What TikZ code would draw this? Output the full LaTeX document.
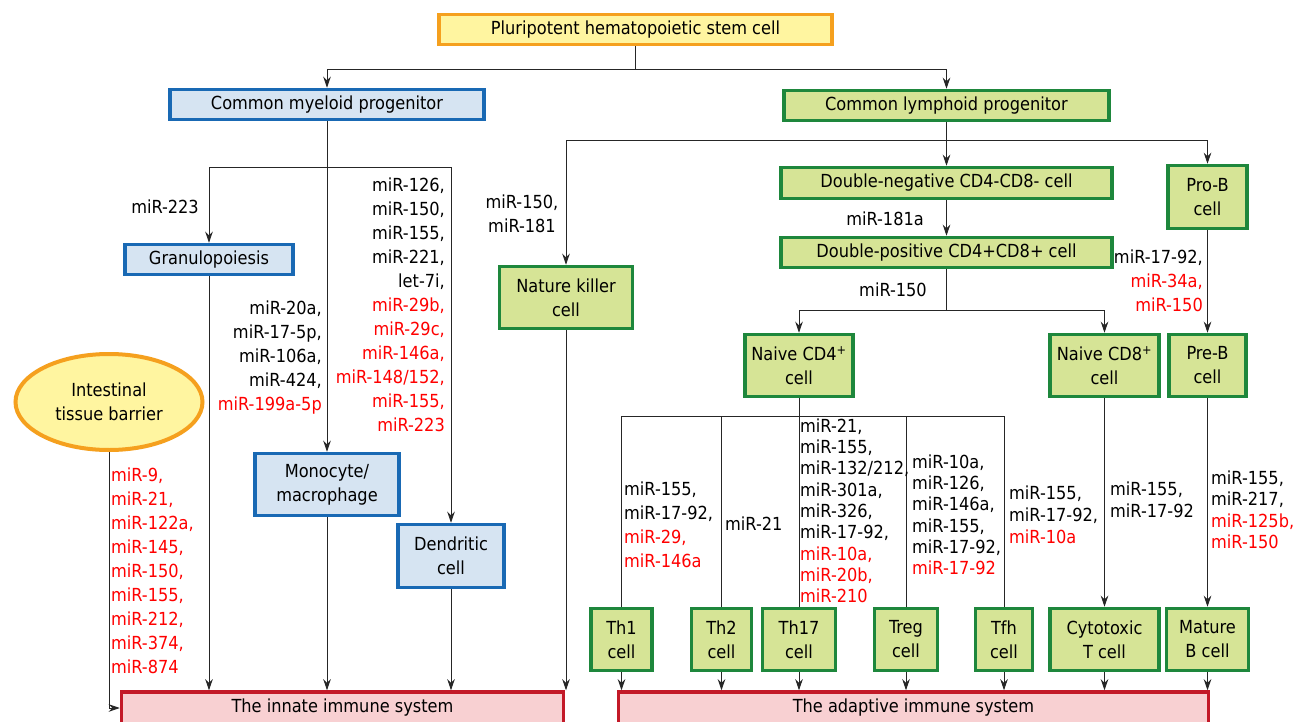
\documentclass[tikz,border=0pt]{standalone}
\usepackage{fontspec}
\setmainfont{DejaVu Sans Condensed}
\usetikzlibrary{arrows.meta,shapes.geometric}
\definecolor{orB}{HTML}{F5A01E}
\definecolor{orF}{HTML}{FFF5A0}
\definecolor{blB}{HTML}{1969B4}
\definecolor{blF}{HTML}{D6E4F2}
\definecolor{grB}{HTML}{1E873C}
\definecolor{grF}{HTML}{D6E496}
\definecolor{rdB}{HTML}{C31928}
\definecolor{rdF}{HTML}{F8D0D2}
\definecolor{mired}{HTML}{FF0000}
\newcommand{\rd}[1]{\textcolor{mired}{#1}}
\tikzset{
  basebox/.style={draw, line width=3.5pt, inner sep=0pt, align=center, font=\fontsize{18}{24}\selectfont},
  obox/.style={basebox, draw=orB, fill=orF},
  bbox/.style={basebox, draw=blB, fill=blF},
  gbox/.style={basebox, draw=grB, fill=grF},
  rbox/.style={basebox, draw=rdB, fill=rdF},
  lab/.style={inner sep=0pt, font=\fontsize{18}{24}\selectfont},
  labt/.style={inner sep=0pt, font=\fontsize{18}{21.3}\selectfont},
  conn/.style={draw=black!85, line width=0.9pt},
  arr/.style={conn, -{Stealth[length=11pt,width=7.5pt,inset=3.5pt]}},
}
\begin{document}
\begin{tikzpicture}[x=1pt,y=-1pt]
\useasboundingbox (0,0) rectangle (1295,722);
\clip (0,0) rectangle (1295,722);
\fill[white] (0,0) rectangle (1295,722);

% boxes
\node[obox, minimum width=393pt, minimum height=30pt] (psc) at (635.5,29.5) {Pluripotent hematopoietic stem cell};
\node[bbox, minimum width=314pt, minimum height=30pt] (cmp) at (327,104.5) {Common myeloid progenitor};
\node[gbox, minimum width=325pt, minimum height=30pt] (clp) at (946.5,105.5) {Common lymphoid progenitor};
\node[bbox, minimum width=168pt, minimum height=30pt] (gran) at (209,259.5) {Granulopoiesis};
\node[bbox, minimum width=144pt, minimum height=62pt] (mono) at (327,484.5) {Monocyte/\\macrophage};
\node[bbox, minimum width=106pt, minimum height=63pt] (dend) at (451,556) {Dendritic\\cell};
\node[gbox, minimum width=133pt, minimum height=62pt] (nk) at (566,297.5) {Nature killer\\cell};
\node[gbox, minimum width=331pt, minimum height=31pt] (dn) at (946.5,183) {Double-negative CD4-CD8- cell};
\node[gbox, minimum width=331pt, minimum height=30pt] (dp) at (946.5,252.5) {Double-positive CD4+CD8+ cell};
\node[gbox, minimum width=79pt, minimum height=63pt] (prob) at (1207.5,197) {Pro-B\\cell};
\node[gbox, minimum width=108pt, minimum height=62pt] (cd4) at (799,365.5) {Naive CD4\textsuperscript{+}\\cell};
\node[gbox, minimum width=109pt, minimum height=62pt] (cd8) at (1104.5,365.5) {Naive CD8\textsuperscript{+}\\cell};
\node[gbox, minimum width=77pt, minimum height=62pt] (preb) at (1207.5,365.5) {Pre-B\\cell};
\node[gbox, minimum width=61pt, minimum height=62pt] (th1) at (621.5,639.5) {Th1\\cell};
\node[gbox, minimum width=60pt, minimum height=62pt] (th2) at (721.5,639.5) {Th2\\cell};
\node[gbox, minimum width=73pt, minimum height=62pt] (th17) at (799,639.5) {Th17\\cell};
\node[gbox, minimum width=63pt, minimum height=62pt] (treg) at (906,639.5) {Treg\\cell};
\node[gbox, minimum width=57pt, minimum height=62pt] (tfh) at (1004,639.5) {Tfh\\cell};
\node[gbox, minimum width=109pt, minimum height=62pt] (cyto) at (1104.5,639.5) {Cytotoxic\\T cell};
\node[gbox, minimum width=82pt, minimum height=62pt] (matb) at (1207.5,639.5) {Mature\\B cell};
\node[rbox, minimum width=442pt, minimum height=32pt] (innate) at (342.5,708) {The innate immune system};
\node[rbox, minimum width=590pt, minimum height=32pt] (adapt) at (913.5,708) {The adaptive immune system};
\node[ellipse, basebox, draw=orB, fill=orF, line width=4pt, minimum width=187pt, minimum height=96pt] (itb) at (109,402) {Intestinal\\tissue barrier};

% junctions
\coordinate (j1) at (635.5,69);
\coordinate (j2) at (327,167);
\coordinate (j3) at (946.5,140);
\coordinate (j4) at (946.5,310);
\coordinate (j5) at (799,416);

% connectors
\draw[conn] (psc.south) -- (j1);
\draw[arr] (j1) -| (cmp.north);
\draw[arr] (j1) -| (clp.north);
\draw[arr] (cmp.south) -- (mono.north);
\draw[arr] (j2) -| (gran.north);
\draw[arr] (j2) -| (dend.north);
\draw[arr] (clp.south) -- (dn.north);
\draw[arr] (j3) -| (nk.north);
\draw[arr] (j3) -| (prob.north);
\draw[arr] (dn.south) -- (dp.north);
\draw[conn] (dp.south) -- (j4);
\draw[arr] (j4) -| (cd4.north);
\draw[arr] (j4) -| (cd8.north);
\draw[arr] (prob.south) -- (preb.north);
\draw[conn] (cd4.south) -- (th17.north);
\draw[conn] (j5) -| (th1.north);
\draw[conn] (j5) -| (tfh.north);
\draw[conn] (th2.north |- j5) -- (th2.north);
\draw[conn] (treg.north |- j5) -- (treg.north);
\draw[arr] (cd8.south) -- (cyto.north);
\draw[arr] (preb.south) -- (matb.north);
\foreach \n in {th1,th2,th17,treg,tfh,cyto,matb}{
  \draw[arr] (\n.south) -- (\n.south |- adapt.north);
}
\foreach \n in {gran,mono,dend,nk}{
  \draw[arr] (\n.south) -- (\n.south |- innate.north);
}
\draw[arr] (itb.south) |- (innate.west);

% labels
\node[lab, anchor=east] (lA) at (199,207) {miR-223};
\node[lab, anchor=north east, align=right] (lB) at (445,177.5) {miR-126,\\miR-150,\\miR-155,\\miR-221,\\let-7i,\\\rd{miR-29b,}\\\rd{miR-29c,}\\\rd{miR-146a,}\\\rd{miR-148/152,}\\\rd{miR-155,}\\\rd{miR-223}};
\node[lab, anchor=north east, align=right] (lC) at (322,300.5) {miR-20a,\\miR-17-5p,\\miR-106a,\\miR-424,\\\rd{miR-199a-5p}};
\node[lab, anchor=north west, align=left] (lD) at (111,467.5) {\rd{miR-9,}\\\rd{miR-21,}\\\rd{miR-122a,}\\\rd{miR-145,}\\\rd{miR-150,}\\\rd{miR-155,}\\\rd{miR-212,}\\\rd{miR-374,}\\\rd{miR-874}};
\node[lab, anchor=north, align=center] (lE) at (522,194.5) {miR-150,\\miR-181};
\node[lab, anchor=east] (lF) at (924,219) {miR-181a};
\node[lab] (lG) at (893,290) {miR-150};
\node[lab, anchor=north east, align=right] (lH) at (1203,249.5) {miR-17-92,\\\rd{miR-34a,}\\\rd{miR-150}};
\node[lab, anchor=north west, align=left] (lI) at (624,481.5) {miR-155,\\miR-17-92,\\\rd{miR-29,}\\\rd{miR-146a}};
\node[lab, anchor=west] (lJ) at (725,524) {miR-21};
\node[labt, anchor=north west, align=left] (lK) at (800,418.5) {miR-21,\\miR-155,\\miR-132/212,\\miR-301a,\\miR-326,\\miR-17-92,\\\rd{miR-10a,}\\\rd{miR-20b,}\\\rd{miR-210}};
\node[labt, anchor=north west, align=left] (lL) at (912,454.5) {miR-10a,\\miR-126,\\miR-146a,\\miR-155,\\miR-17-92,\\\rd{miR-17-92}};
\node[lab, anchor=north west, align=left, font=\fontsize{18}{22}\selectfont] (lM) at (1009,485.5) {miR-155,\\miR-17-92,\\\rd{miR-10a}};
\node[lab, anchor=north west, align=left, font=\fontsize{18}{22}\selectfont] (lN) at (1110,481.5) {miR-155,\\miR-17-92};
\node[lab, anchor=north west, align=left, font=\fontsize{18}{21.5}\selectfont] (lO) at (1211,470.5) {miR-155,\\miR-217,\\\rd{miR-125b,}\\\rd{miR-150}};
\end{tikzpicture}
\end{document}
